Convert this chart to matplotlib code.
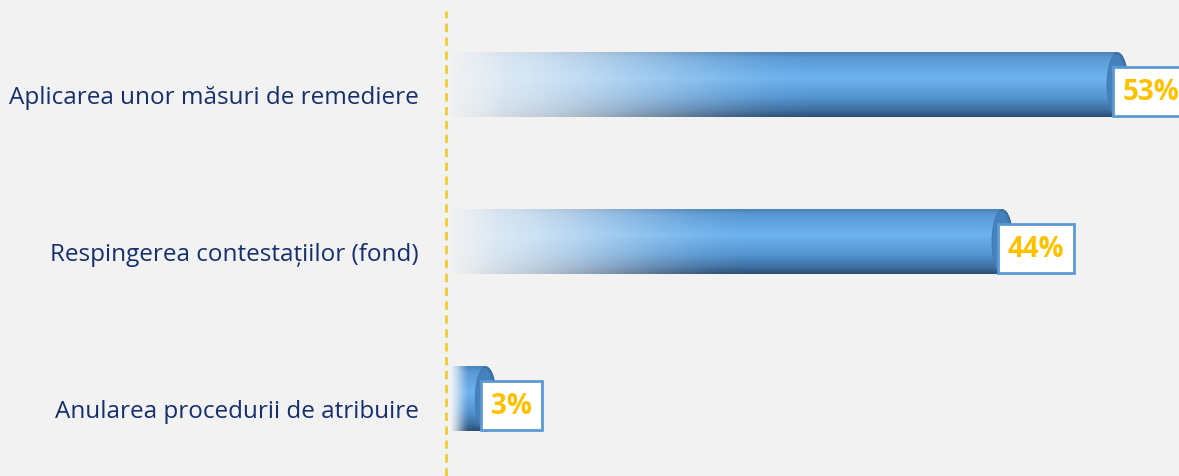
import numpy as np
import matplotlib.pyplot as plt
from matplotlib.patches import Ellipse
from matplotlib import transforms
from matplotlib.colors import to_rgb

# date
categorii = ['Aplicarea unor măsuri de remediere',
             'Respingerea contestațiilor (fond)',
             'Anularea procedurii de atribuire']
valori = [53, 44, 3.6]
etichete = ['53%', '44%', '3%']

bg = '#f2f2f2'
text_col = '#142f6b'
gold = '#ffc000'
box_edge = '#5b9bd5'

px = 12.79  # pixeli pe procent
fig = plt.figure(figsize=(11.79, 4.77), dpi=100, facecolor=bg)
ax = fig.add_axes([438 / 1179, 0, 1 - 438 / 1179, 1])
ax.set_facecolor(bg)

bar_h = 0.41
cap = 0.8  # jumatate din latimea capacului eliptic

# profil vertical al cilindrului (sus -> jos)
stops = [0.0, 0.08, 0.4, 0.7, 0.9, 1.0]
cols = [to_rgb(c) for c in ['#4a83b8', '#5a9ad6', '#6db2ee', '#5595d0', '#3d6fa0', '#2c5075']]
rows = 60
t = np.linspace(0, 1, rows)
prof = np.stack([np.interp(t, stops, [c[k] for c in cols]) for k in range(3)], axis=1)
light = prof * 0.12 + 0.88 * np.array([0.95, 0.96, 0.97])

for i, v in enumerate(valori):
    x1 = v - cap
    ncol = 300
    f = np.linspace(0, 1, ncol)
    w = np.clip(f / 0.55, 0, 1)
    w = w * w * (3 - 2 * w)
    img = np.zeros((rows, ncol, 4))
    for k in range(3):
        img[:, :, k] = light[:, k][:, None] * (1 - w)[None, :] + prof[:, k][:, None] * w[None, :]
    a = 0.15 + 0.85 * np.clip(f / 0.08, 0, 1)
    img[:, :, 3] = a[None, :]
    ax.imshow(img, extent=(0.1, x1, i + bar_h / 2, i - bar_h / 2), origin='upper',
              aspect='auto', interpolation='bilinear', zorder=2)
    ax.add_patch(Ellipse((x1, i), 2 * cap, bar_h, facecolor='#3f78b0',
                         edgecolor='#35668f', lw=0.8, zorder=3))
    ax.add_patch(Ellipse((x1 - 0.15, i), 2 * cap * 0.9, bar_h * 0.96, facecolor='#4a89c6',
                         edgecolor='none', zorder=3, alpha=0.6))

    ax.annotate(etichete[i], xy=(v - 1.15, i + bar_h / 2), xytext=(7, 8),
                textcoords='offset points', ha='left', va='bottom',
                fontsize=20, fontweight='bold', color=gold, family='Open Sans',
                bbox=dict(boxstyle='square,pad=0.35', fc='white', ec=box_edge, lw=2),
                zorder=5, annotation_clip=False)

trans = transforms.blended_transform_factory(fig.transFigure, ax.transData)
for i, c in enumerate(categorii):
    fig.text(419 / 1179, i + 0.075, c, transform=trans, ha='right', va='center',
             fontsize=17.5, color=text_col, family='Open Sans')

ax.axvline(-0.3, ymin=0, ymax=1 - 12 / 477, color='#f0cc30', lw=2, ls=(0, (3, 2)), zorder=1)

ax.set_xlim(-12 / px, (1179 - 450) / px)
ax.set_ylim((477 - 86) / 157, -86 / 157)
ax.axis('off')

fig.savefig('out.png', dpi=100, facecolor=bg)
